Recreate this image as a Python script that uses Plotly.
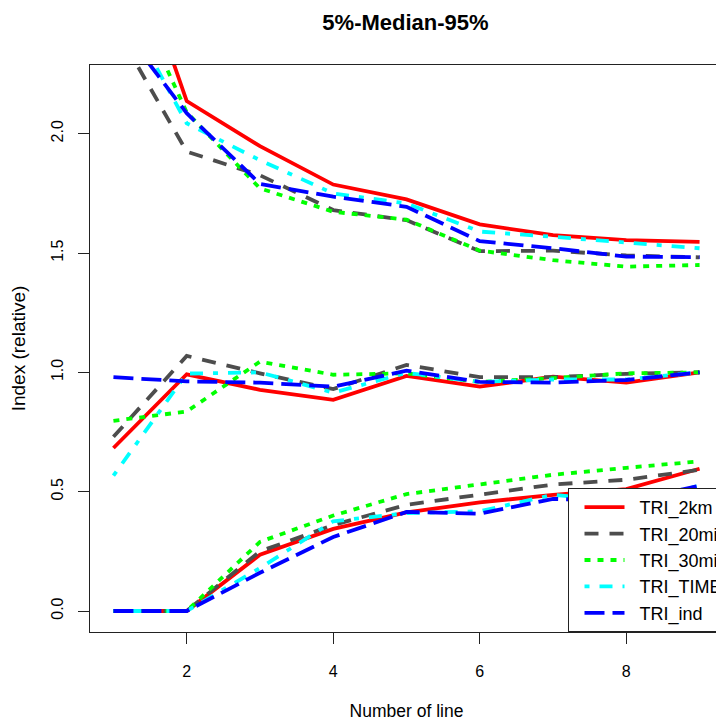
import plotly.graph_objects as go

x_vals = [1, 2, 3, 4, 5, 6, 7, 8, 9]
series_names = ["TRI_2km", "TRI_20min", "TRI_30min", "TRI_TIME", "TRI_ind"]

# 95% quantile
p95_2km = [3.02, 2.137, 1.948, 1.787, 1.725, 1.62, 1.575, 1.554, 1.547]
p95_20min = [2.46, 1.925, 1.826, 1.68, 1.638, 1.508, 1.51, 1.49, 1.482]
p95_30min = [2.76, 2.09, 1.771, 1.673, 1.64, 1.51, 1.47, 1.443, 1.45]
p95_time = [2.61, 2.044, 1.889, 1.75, 1.708, 1.59, 1.568, 1.543, 1.52]
p95_ind = [2.49, 2.086, 1.79, 1.736, 1.694, 1.55, 1.52, 1.485, 1.483]

# median
med_2km = [0.683, 0.992, 0.927, 0.885, 0.985, 0.94, 0.982, 0.957, 1.0]
med_20min = [0.73, 1.069, 0.996, 0.93, 1.031, 0.98, 0.98, 0.994, 1.0]
med_30min = [0.797, 0.836, 1.045, 0.99, 0.996, 0.96, 0.976, 0.996, 1.0]
med_time = [0.567, 0.995, 1.0, 0.915, 0.998, 0.96, 0.97, 0.97, 1.0]
med_ind = [0.98, 0.962, 0.957, 0.94, 1.007, 0.96, 0.957, 0.968, 1.0]

# 5% quantile
p5_2km = [0, 0, 0.236, 0.344, 0.413, 0.455, 0.487, 0.511, 0.596]
p5_20min = [0, 0, 0.25, 0.36, 0.445, 0.487, 0.53, 0.55, 0.592]
p5_30min = [0, 0, 0.29, 0.40, 0.49, 0.53, 0.571, 0.60, 0.627]
p5_time = [0, 0, 0.18, 0.376, 0.41, 0.418, 0.487, 0.457, 0.525]
p5_ind = [0, 0, 0.16, 0.31, 0.415, 0.408, 0.47, 0.46, 0.525]

x_tick_vals = [2, 4, 6, 8]
y_tick_vals = [0.0, 0.5, 1.0, 1.5, 2.0]
y_tick_text = ["0.0", "0.5", "1.0", "1.5", "2.0"]

series_data = [
    (p95_2km, med_2km, p5_2km),
    (p95_20min, med_20min, p5_20min),
    (p95_30min, med_30min, p5_30min),
    (p95_time, med_time, p5_time),
    (p95_ind, med_ind, p5_ind),
]
colors = ["#FF0000", "#4D4D4D", "#00FF00", "#00FFFF", "#0000FF"]
dashes = ["solid", "14px,11px", "6px,7px", "5px,10px,13px,10px", "20px,8px"]

FONT = "Liberation Sans, Arial, sans-serif"

fig = go.Figure()
for name, (hi, md, lo), c, d in zip(series_names, series_data, colors, dashes):
    for k, ys in enumerate((hi, md, lo)):
        fig.add_trace(go.Scatter(
            x=x_vals, y=ys, mode="lines", name="&nbsp;&nbsp;" + name,
            legendgroup=name, showlegend=(k == 1),
            line=dict(color=c, width=3.8, dash=d),
        ))

# the page body has an 8px margin, so the figure is laid out 8px up/left
fig.update_layout(
    width=724, height=724,
    margin=dict(l=82, r=9, t=57, b=100, autoexpand=False),
    paper_bgcolor="white", plot_bgcolor="white",
    font=dict(family=FONT, size=16, color="black"),
    title=dict(text="<b>5%-Median-95%</b>", x=397.5 / 724, xanchor="center",
               y=1 - 14 / 724, yanchor="middle",
               font=dict(family=FONT, size=22, color="black")),
    showlegend=True,
    legend=dict(x=(559.5 - 82) / 633, xanchor="left", y=0, yanchor="bottom",
                bgcolor="white", bordercolor="#222222", borderwidth=1,
                font=dict(family=FONT, size=18, color="black"),
                itemwidth=40, indentation=11, traceorder="normal",
                tracegroupgap=0),
    xaxis=dict(range=[0.68, 9.32], tickvals=x_tick_vals, ticks="outside",
               ticklen=11, tickwidth=1, tickcolor="#222222",
               showgrid=False, zeroline=False, showline=True, mirror=True,
               linecolor="#222222", linewidth=1, ticklabelstandoff=14,
               tickfont=dict(family=FONT, size=16),
               title=dict(text="Number of line", standoff=25,
                          font=dict(family=FONT, size=17.5))),
    yaxis=dict(range=[-0.088, 2.288], tickvals=y_tick_vals, ticktext=y_tick_text,
               tickangle=-90, ticks="outside", ticklen=11, tickwidth=1,
               tickcolor="#222222", showgrid=False, zeroline=False,
               showline=True, mirror=True, linecolor="#222222", linewidth=1,
               ticklabelstandoff=9, tickfont=dict(family=FONT, size=16),
               title=dict(text="Index (relative)", standoff=18,
                          font=dict(family=FONT, size=19))),
)

fig.write_html("out.html")
